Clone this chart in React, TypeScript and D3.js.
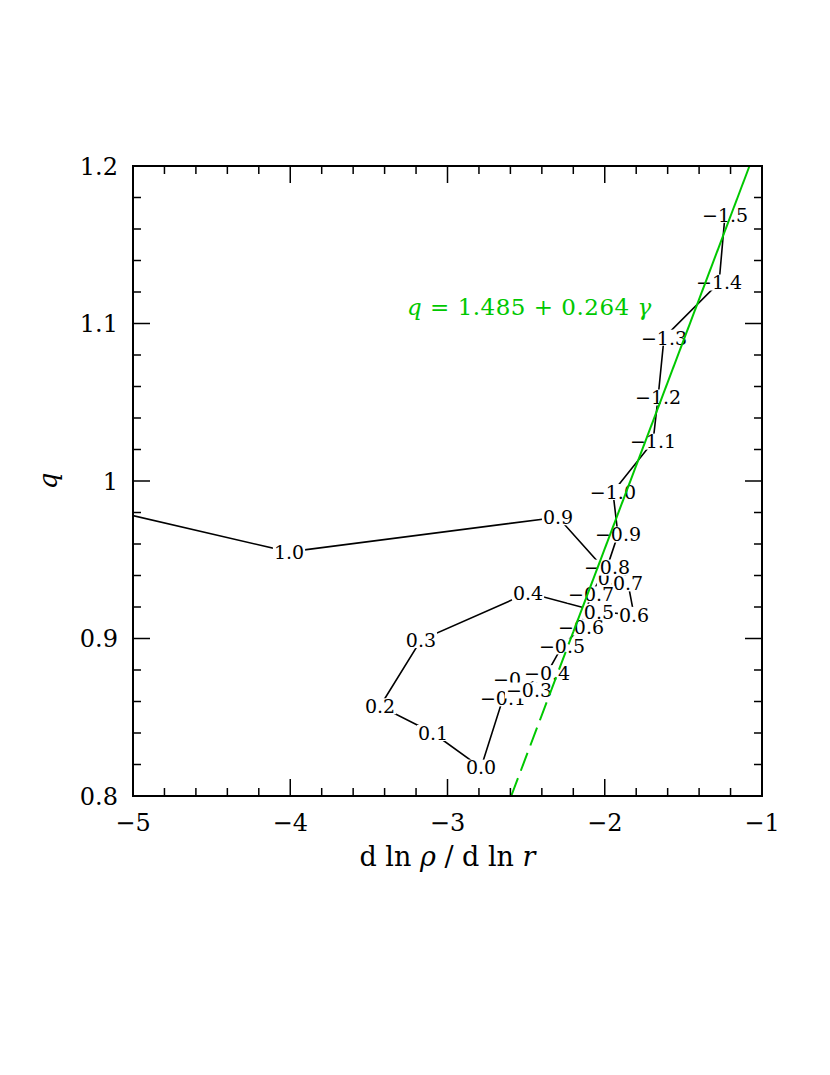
import React from 'react'
import * as d3 from 'd3'

// gamma labels along the track, with their (slope, q) positions
const gammaLabels = ['1.1', '1.0', '0.9', '0.8', '0.7', '0.6', '0.5', '0.4', '0.3', '0.2', '0.1', '0.0',
    '-0.1', '-0.2', '-0.3', '-0.4', '-0.5', '-0.6', '-0.7', '-0.8', '-0.9', '-1.0',
    '-1.1', '-1.2', '-1.3', '-1.4', '-1.5']
const slopeVals = [-5.3, -4.008, -2.297, -1.948, -1.852, -1.814, -2.037, -2.488, -3.169, -3.429, -3.092, -2.787,
    -2.647, -2.564, -2.482, -2.367, -2.272, -2.151, -2.087, -1.986, -1.916, -1.948,
    -1.693, -1.661, -1.623, -1.273, -1.235]
const qVals = [0.985, 0.955, 0.977, 0.938, 0.935, 0.915, 0.917, 0.929, 0.899, 0.857, 0.840, 0.818,
    0.862, 0.874, 0.867, 0.878, 0.895, 0.907, 0.928, 0.945, 0.966, 0.993,
    1.025, 1.053, 1.091, 1.126, 1.169]

// fit q = a + b * gamma
const fitA = 1.485
const fitB = 0.264
const fitStart = -2.2 // solid from here, dashed extrapolation below

const xTicks = [-5, -4, -3, -2, -1]
const yTicks = [0.8, 0.9, 1.0, 1.1, 1.2]
const yTickLabels = ['0.8', '0.9', '1', '1.1', '1.2']

const W = 830
const H = 1075
const left = 133, right = 762, top = 166, bottom = 796
const green = '#00c800'
const font = 'DejaVu Serif, serif'
const labelSize = 19

function labelWidth(s: string) {
    let w = 0
    for (const c of s) {
        if (c === '.') w += 0.318
        else if (c === '-') w += 0.838
        else w += 0.636
    }
    return w * labelSize
}

export default function App() {
    const x = d3.scaleLinear().domain([-5, -1]).range([left, right])
    const y = d3.scaleLinear().domain([0.8, 1.2]).range([bottom, top])

    const pts = gammaLabels.map((g, i) => ({ g, sx: slopeVals[i], q: qVals[i] }))

    const track = d3.line<any>().x(d => x(d.sx)).y(d => y(d.q))(pts)

    const fitLine = (g0: number, g1: number) =>
        d3.line<number>().x(g => x(g)).y(g => y(fitA + fitB * g))([g0, g1])
    const gBottom = (0.8 - fitA) / fitB
    const gTop = (1.2 - fitA) / fitB

    const xMinor = d3.range(-5, -1.0001, 0.2)
    const yMinor = d3.range(0.8, 1.2001, 0.02)

    return (
        <svg width={W} height={H} style={{ position: 'absolute', left: 0, top: 0, background: '#fff' }}>
            <defs>
                <clipPath id="plotClip">
                    <rect x={left} y={top} width={right - left} height={bottom - top} />
                </clipPath>
            </defs>

            <path d={track!} fill="none" stroke="#000" strokeWidth={1.6} clipPath="url(#plotClip)" />

            {pts.filter(p => p.sx >= -5).map(p => {
                const w = labelWidth(p.g)
                const txt = p.g.replace('-', '\u2212')
                return (
                    <g key={p.g}>
                        <rect x={x(p.sx) - w / 2 - 1} y={y(p.q) - 8} width={w + 2} height={16} fill="#fff" />
                        <text x={x(p.sx)} y={y(p.q)} dy="0.36em" textAnchor="middle"
                            fontFamily={font} fontSize={labelSize} fill="#000">{txt}</text>
                    </g>
                )
            })}

            <path d={fitLine(fitStart, gTop)!} stroke={green} strokeWidth={2} fill="none" />
            <path d={fitLine(gBottom, fitStart)!} stroke={green} strokeWidth={2} fill="none" strokeDasharray="19 8" />

            <text x={407} y={315} fontFamily={font} fontSize={23} letterSpacing={0.5} fill={green}>
                <tspan fontStyle="italic">q</tspan>
                <tspan> = 1.485 + 0.264 </tspan>
                <tspan fontStyle="italic">γ</tspan>
            </text>

            {/* frame and ticks */}
            <rect x={left} y={top} width={right - left} height={bottom - top} fill="none" stroke="#000" strokeWidth={2} />
            {xMinor.map((v, i) => {
                const major = xTicks.some(t => Math.abs(t - v) < 1e-6)
                const len = major ? 17 : 8
                return (
                    <g key={'xm' + i}>
                        <line x1={x(v)} x2={x(v)} y1={bottom} y2={bottom - len} stroke="#000" strokeWidth={1.5} />
                        <line x1={x(v)} x2={x(v)} y1={top} y2={top + len} stroke="#000" strokeWidth={1.5} />
                    </g>
                )
            })}
            {yMinor.map((v, i) => {
                const major = yTicks.some(t => Math.abs(t - v) < 1e-6)
                const len = major ? 17 : 8
                return (
                    <g key={'ym' + i}>
                        <line x1={left} x2={left + len} y1={y(v)} y2={y(v)} stroke="#000" strokeWidth={1.5} />
                        <line x1={right} x2={right - len} y1={y(v)} y2={y(v)} stroke="#000" strokeWidth={1.5} />
                    </g>
                )
            })}

            {xTicks.map(t => (
                <text key={'xt' + t} x={x(t)} y={bottom + 26} dy="0.36em" textAnchor="middle"
                    fontFamily={font} fontSize={24}>{'\u2212' + Math.abs(t)}</text>
            ))}
            {yTicks.map((t, i) => (
                <text key={'yt' + t} x={left - 15} y={y(t)} dy="0.36em" textAnchor="end"
                    fontFamily={font} fontSize={24}>{yTickLabels[i]}</text>
            ))}

            <text x={(left + right) / 2} y={866} textAnchor="middle" fontFamily={font} fontSize={27}>
                d ln <tspan fontStyle="italic">ρ</tspan> / d ln <tspan fontStyle="italic">r</tspan>
            </text>
            <text transform={`translate(57, ${(top + bottom) / 2}) rotate(-90)`} textAnchor="middle"
                fontFamily={font} fontSize={26} fontStyle="italic">q</text>
        </svg>
    )
}
